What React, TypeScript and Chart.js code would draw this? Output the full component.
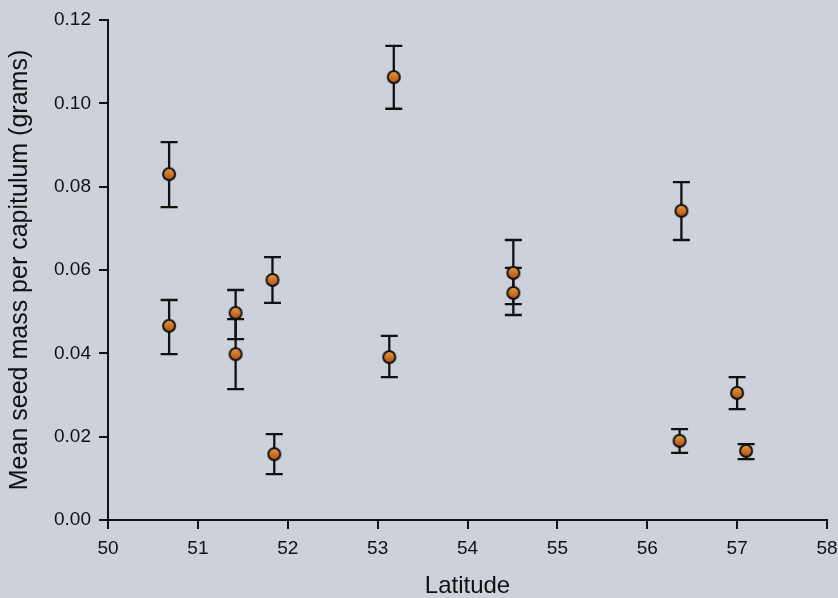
import React, { useEffect, useRef } from "react";
import { Chart, registerables } from "chart.js";

Chart.register(...registerables);

// Latitude of each population (degrees N)
const latitudes = [50.68, 50.68, 51.42, 51.42, 51.83, 51.85, 53.18, 53.13, 54.51, 54.51, 56.38, 56.36, 57.0, 57.1];
// Mean seed mass per capitulum (grams)
const meanMass = [0.083, 0.0466, 0.0497, 0.0398, 0.0576, 0.0158, 0.1063, 0.0391, 0.0593, 0.0545, 0.0742, 0.019, 0.0305, 0.0166];
// Error bar upper and lower ends (grams)
const errUpper = [0.0907, 0.0528, 0.0552, 0.0482, 0.0631, 0.0206, 0.1138, 0.0442, 0.0672, 0.0605, 0.0811, 0.0218, 0.0343, 0.0182];
const errLower = [0.0751, 0.0398, 0.0434, 0.0314, 0.0521, 0.011, 0.0987, 0.0343, 0.0518, 0.0492, 0.0672, 0.0161, 0.0266, 0.0146];

const xTitle = "Latitude";
const yTitle = "Mean seed mass per capitulum (grams)";

const BG = "#ccd1da";
const INK = "#111111";
const FONT = "'Liberation Sans', Arial, Helvetica, sans-serif";

function makeMarker(): HTMLCanvasElement {
  const c = document.createElement("canvas");
  c.width = 16;
  c.height = 16;
  const g = c.getContext("2d")!;
  const grad = g.createLinearGradient(0, 2, 0, 14);
  grad.addColorStop(0, "#e6a040");
  grad.addColorStop(0.5, "#cf7428");
  grad.addColorStop(1, "#b0501a");
  g.beginPath();
  g.arc(8, 8, 6, 0, Math.PI * 2);
  g.fillStyle = grad;
  g.fill();
  g.lineWidth = 2;
  g.strokeStyle = INK;
  g.stroke();
  return c;
}

export default function App() {
  const ref = useRef<HTMLCanvasElement | null>(null);

  useEffect(() => {
    document.body.style.margin = "0";
    document.body.style.background = BG;
    const canvas = ref.current!;
    const marker = makeMarker();

    const bgPlugin = {
      id: "bg",
      beforeDraw(chart: any) {
        const ctx = chart.ctx;
        ctx.save();
        ctx.fillStyle = BG;
        ctx.fillRect(0, 0, chart.width, chart.height);
        ctx.restore();
      },
    };

    const errorBars = {
      id: "errorBars",
      beforeDatasetsDraw(chart: any) {
        const ctx = chart.ctx;
        const xs = chart.scales.x;
        const ys = chart.scales.y;
        ctx.save();
        ctx.strokeStyle = INK;
        ctx.lineWidth = 2.3;
        const cap = 8.5;
        for (let i = 0; i < latitudes.length; i++) {
          const px = xs.getPixelForValue(latitudes[i]);
          const top = ys.getPixelForValue(errUpper[i]);
          const bot = ys.getPixelForValue(errLower[i]);
          ctx.beginPath();
          ctx.moveTo(px, top);
          ctx.lineTo(px, bot);
          ctx.moveTo(px - cap, top);
          ctx.lineTo(px + cap, top);
          ctx.moveTo(px - cap, bot);
          ctx.lineTo(px + cap, bot);
          ctx.stroke();
        }
        ctx.restore();
      },
    };

    const chart = new Chart(canvas, {
      type: "scatter",
      data: {
        datasets: [
          {
            data: latitudes.map((x, i) => ({ x, y: meanMass[i] })),
            pointStyle: marker as any,
            pointRadius: 6,
            pointHoverRadius: 6,
          },
        ],
      },
      options: {
        animation: false,
        responsive: false,
        events: [],
        layout: { padding: { top: 20, right: 11, left: 0, bottom: 0 } },
        plugins: {
          legend: { display: false },
          tooltip: { enabled: false },
          title: { display: false },
        },
        scales: {
          x: {
            type: "linear",
            min: 50,
            max: 58,
            afterFit(scale: any) {
              scale.height = 78;
              scale.paddingRight = 0;
              scale.paddingLeft = 0;
            },
            ticks: {
              stepSize: 1,
              color: INK,
              padding: 8,
              font: { family: FONT, size: 19 },
              callback: (v: any) => String(v),
            },
            grid: {
              drawOnChartArea: false,
              drawTicks: true,
              tickLength: 9,
              color: INK,
              lineWidth: 2,
            },
            border: { display: true, color: INK, width: 2 },
            title: {
              display: true,
              text: xTitle,
              color: INK,
              font: { family: FONT, size: 24, lineHeight: 1 },
              padding: { top: -2, bottom: 0 },
            },
          },
          y: {
            type: "linear",
            min: 0,
            max: 0.12,
            afterFit(scale: any) {
              scale.width = 108;
              scale.paddingTop = 0;
              scale.paddingBottom = 0;
            },
            ticks: {
              stepSize: 0.02,
              color: INK,
              padding: 8,
              font: { family: FONT, size: 19 },
              callback: (v: any) => Number(v).toFixed(2),
            },
            grid: {
              drawOnChartArea: false,
              drawTicks: true,
              tickLength: 9,
              color: INK,
              lineWidth: 2,
            },
            border: { display: true, color: INK, width: 2 },
            title: {
              display: true,
              text: yTitle,
              color: INK,
              font: { family: FONT, size: 25, lineHeight: 1 },
              padding: { top: 8, bottom: 0 },
            },
          },
        },
      },
      plugins: [bgPlugin, errorBars],
    });

    return () => chart.destroy();
  }, []);

  return (
    <div style={{ position: "fixed", left: 0, top: 0, width: 838, height: 598, background: BG }}>
      <canvas ref={ref} width={838} height={598} style={{ display: "block", width: 838, height: 598 }} />
    </div>
  );
}
